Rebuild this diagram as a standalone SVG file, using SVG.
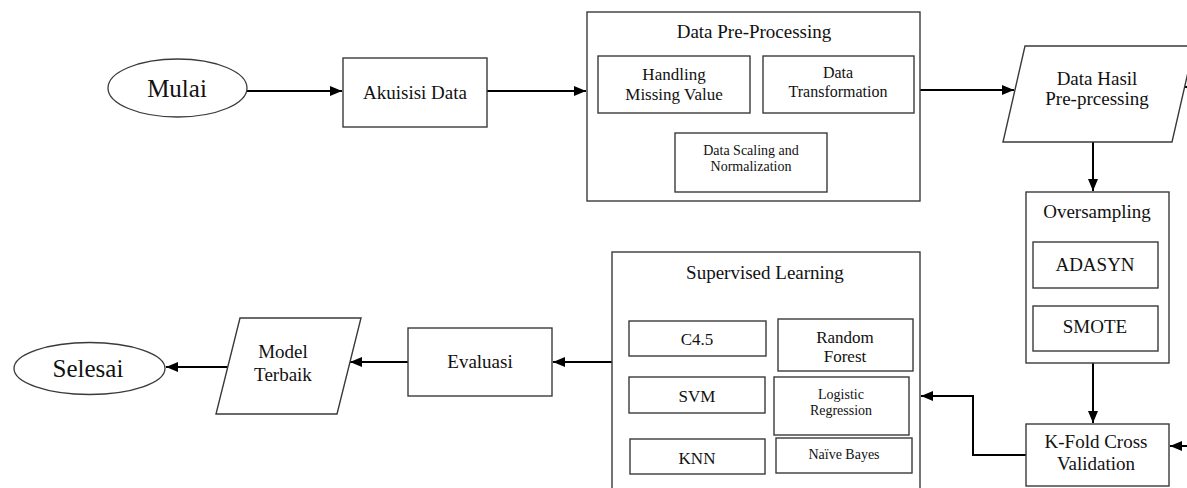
<svg xmlns="http://www.w3.org/2000/svg" width="1187" height="488" viewBox="0 0 1187 488">
  <style>
    .box { fill: #ffffff; stroke: #3a3a3a; stroke-width: 1.4; }
    .term { fill: #ffffff; stroke: #3a3a3a; stroke-width: 1.3; }
    .edge { fill: none; stroke: #000000; stroke-width: 2; }
    text { font-family: "Liberation Serif", "Times New Roman", serif; fill: #111111; text-anchor: middle; }
    .t19 { font-size: 19px; }
    .t17 { font-size: 17px; }
    .t16 { font-size: 16px; }
    .t14 { font-size: 14px; }
    .t25 { font-size: 25px; }
  </style>
  <defs>
    <marker id="arrow" markerUnits="userSpaceOnUse" markerWidth="13" markerHeight="11" refX="12" refY="5" orient="auto">
      <path d="M0,0 L12,5 L0,10 z" fill="#000000"/>
    </marker>
  </defs>

  <rect width="1187" height="488" fill="#ffffff"/>

  <!-- connectors -->
  <g id="connectors">
    <line class="edge" x1="247" y1="91" x2="342" y2="91" marker-end="url(#arrow)"/>
    <line class="edge" x1="487" y1="91" x2="586" y2="91" marker-end="url(#arrow)"/>
    <line class="edge" x1="920" y1="90" x2="1014" y2="90" marker-end="url(#arrow)"/>
    <line class="edge" x1="1196" y1="87" x2="1184" y2="87" marker-end="url(#arrow)"/>
    <line class="edge" x1="1093" y1="142" x2="1093" y2="191" marker-end="url(#arrow)"/>
    <line class="edge" x1="1093" y1="363" x2="1093" y2="423" marker-end="url(#arrow)"/>
    <line class="edge" x1="1190" y1="446" x2="1170" y2="446" marker-end="url(#arrow)"/>
    <polyline class="edge" points="1026,455 973,455 973,396 921,396" marker-end="url(#arrow)"/>
    <line class="edge" x1="612" y1="362" x2="553" y2="362" marker-end="url(#arrow)"/>
    <line class="edge" x1="408" y1="362" x2="350" y2="362" marker-end="url(#arrow)"/>
    <line class="edge" x1="228" y1="367" x2="166" y2="367" marker-end="url(#arrow)"/>
  </g>

  <!-- start terminal -->
  <g id="mulai">
    <ellipse class="term" cx="177.5" cy="88" rx="69.5" ry="29"/>
    <text class="t25" x="177" y="97">Mulai</text>
  </g>

  <g id="akuisisi">
    <rect class="box" x="343" y="58" width="144" height="69"/>
    <text class="t19" x="415" y="99">Akuisisi Data</text>
  </g>

  <!-- pre-processing stage -->
  <g id="preprocessing">
    <rect class="box" x="587" y="12" width="333" height="189"/>
    <text class="t19" x="754" y="38">Data Pre-Processing</text>
    <g id="handling">
      <rect class="box" x="598" y="56" width="152" height="57"/>
      <text class="t17" x="674" y="80">Handling</text>
      <text class="t17" x="674" y="100">Missing Value</text>
    </g>
    <g id="transformation">
      <rect class="box" x="763" y="56" width="151" height="57"/>
      <text class="t16" x="838" y="78">Data</text>
      <text class="t16" x="838" y="97">Transformation</text>
    </g>
    <g id="scaling">
      <rect class="box" x="675" y="133" width="152" height="59"/>
      <text class="t14" x="751" y="155">Data Scaling and</text>
      <text class="t14" x="751" y="171">Normalization</text>
    </g>
  </g>

  <g id="data-hasil">
    <polygon class="box" points="1025,46 1194,46 1172,142 1003,142"/>
    <text class="t19" x="1097" y="85">Data Hasil</text>
    <text class="t19" x="1097" y="105">Pre-prcessing</text>
  </g>

  <!-- oversampling stage -->
  <g id="oversampling">
    <rect class="box" x="1026" y="192" width="143" height="171"/>
    <text class="t19" x="1097" y="218">Oversampling</text>
    <g id="adasyn">
      <rect class="box" x="1033" y="242" width="125" height="46"/>
      <text class="t19" x="1095" y="271">ADASYN</text>
    </g>
    <g id="smote">
      <rect class="box" x="1033" y="306" width="125" height="45"/>
      <text class="t19" x="1095" y="333">SMOTE</text>
    </g>
  </g>

  <g id="kfold">
    <rect class="box" x="1026" y="424" width="143" height="62"/>
    <text class="t19" x="1096" y="448">K-Fold Cross</text>
    <text class="t19" x="1096" y="470">Validation</text>
  </g>

  <!-- supervised learning stage -->
  <g id="supervised">
    <rect class="box" x="612" y="252" width="308" height="250"/>
    <text class="t19" x="765" y="279">Supervised Learning</text>
    <g id="c45">
      <rect class="box" x="629" y="321" width="137" height="35"/>
      <text class="t17" x="697" y="345">C4.5</text>
    </g>
    <g id="random-forest">
      <rect class="box" x="778" y="319" width="135" height="52"/>
      <text class="t17" x="845" y="343">Random</text>
      <text class="t17" x="845" y="362">Forest</text>
    </g>
    <g id="svm">
      <rect class="box" x="629" y="377" width="136" height="36"/>
      <text class="t17" x="697" y="402">SVM</text>
    </g>
    <g id="logistic">
      <rect class="box" x="774" y="377" width="135" height="58"/>
      <text class="t14" x="841" y="399">Logistic</text>
      <text class="t14" x="841" y="415">Regression</text>
    </g>
    <g id="knn">
      <rect class="box" x="630" y="439" width="135" height="35"/>
      <text class="t17" x="697" y="464">KNN</text>
    </g>
    <g id="naive-bayes">
      <rect class="box" x="776" y="438" width="136" height="35"/>
      <text class="t14" x="844" y="459">Naïve Bayes</text>
    </g>
  </g>

  <g id="evaluasi">
    <rect class="box" x="408" y="328" width="144" height="68"/>
    <text class="t19" x="480" y="368">Evaluasi</text>
  </g>

  <g id="model-terbaik">
    <polygon class="box" points="240,318 361,318 337,414 216,414"/>
    <text class="t19" x="283" y="358">Model</text>
    <text class="t19" x="283" y="381">Terbaik</text>
  </g>

  <!-- end terminal -->
  <g id="selesai">
    <ellipse class="term" cx="89.5" cy="368.5" rx="75.5" ry="26"/>
    <text class="t25" x="88" y="377">Selesai</text>
  </g>
</svg>
